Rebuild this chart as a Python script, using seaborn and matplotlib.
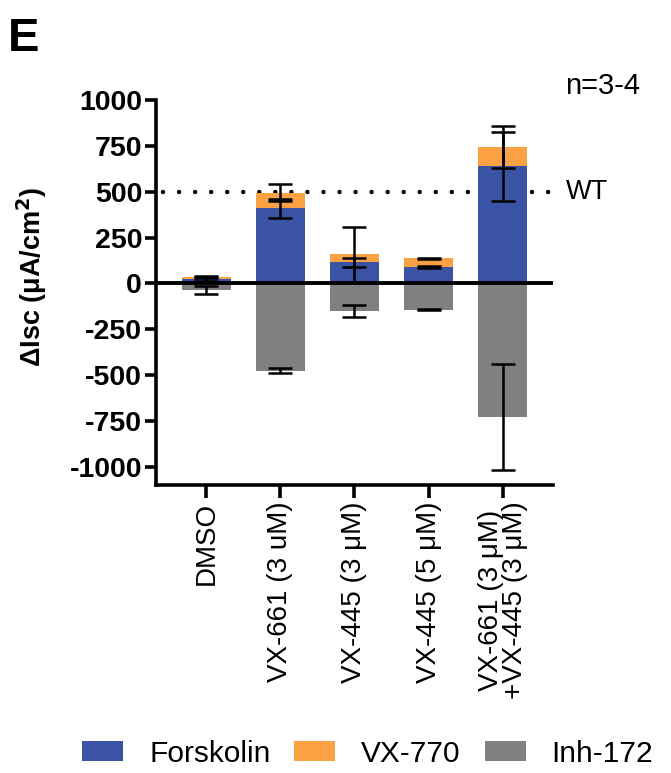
import numpy as np
import pandas as pd
import seaborn as sns
import matplotlib.pyplot as plt
from matplotlib.patches import Patch

# conditions on x axis
conditions = ["DMSO", "VX-661 (3 uM)", "VX-445 (3 μM)", "VX-445 (5 μM)",
              "VX-661 (3 μM)\n+VX-445 (3 μM)"]

# mean delta Isc (uA/cm2) for each stimulus, stacked
forskolin = [22, 410, 115, 89, 638]
vx770 = [14, 85, 43, 47, 106]
inh172 = [-36, -476, -149, -144, -728]

# error (SD) at top of each segment
forskolin_err = [10, 52, 25, 3, 187]
vx770_err = [5, 48, 150, 3, 114]
inh172_err = [22, 15, 33, 2, 288]

wt_level = 500

colors = {"Forskolin": "#3A53A4", "VX-770": "#F9A143", "Inh-172": "#808080"}

df = pd.DataFrame({
    "cond": conditions,
    "forskolin": forskolin,
    "vx770": vx770,
    "inh172": inh172,
})

sns.set_style("ticks", {"axes.edgecolor": "black", "text.color": "black",
                        "axes.labelcolor": "black", "xtick.color": "black",
                        "ytick.color": "black"})
plt.rcParams["font.family"] = ["Liberation Sans", "DejaVu Sans"]
plt.rcParams["axes.unicode_minus"] = False

fig = plt.figure(figsize=(6.71, 7.73), dpi=100)
ax = fig.add_axes([0.2325, 0.3726, 0.824 - 0.2325, 0.8706 - 0.3726])

# WT reference line behind bars
ax.plot([-0.58, 4.72], [wt_level, wt_level], color="black", lw=3.2,
        linestyle=(0, (0.01, 3.6)), dash_capstyle="round", zorder=0,
        clip_on=False)

bar_kw = dict(width=0.67, saturation=1, ax=ax, zorder=2, linewidth=0,
              edgecolor="none")
sns.barplot(data=df, x="cond", y="forskolin", color=colors["Forskolin"],
            **bar_kw)
sns.barplot(data=df, x="cond", y="vx770", color=colors["VX-770"],
            bottom=df["forskolin"].values, **bar_kw)
sns.barplot(data=df, x="cond", y="inh172", color=colors["Inh-172"],
            **bar_kw)

xpos = np.arange(len(conditions))
tops_f = np.array(forskolin)
tops_v = np.array(forskolin) + np.array(vx770)
ek = dict(fmt="none", ecolor="black", elinewidth=1.8, capsize=8.5,
          capthick=1.8, zorder=4)
ax.errorbar(xpos, tops_f, yerr=forskolin_err, **ek)
ax.errorbar(xpos, tops_v, yerr=vx770_err, **ek)
ax.errorbar(xpos, inh172, yerr=inh172_err, **ek)

ax.axhline(0, color="black", lw=2.8, zorder=3)

ax.set_xlim(-0.68, 4.68)
ax.set_ylim(-1100, 1000)
ax.set_yticks([-1000, -750, -500, -250, 0, 250, 500, 750, 1000])
ax.set_xlabel("")
ax.set_ylabel("ΔIsc (μA/cm$^\\mathbf{2}$)", fontsize=19.5, fontweight="bold")
ax.yaxis.set_label_coords(-0.27, 0.54)

for s in ["top", "right"]:
    ax.spines[s].set_visible(False)
for s in ["left", "bottom"]:
    ax.spines[s].set_linewidth(2.6)

ax.tick_params(axis="y", labelsize=20.5, width=2.6, length=8, pad=2)
ax.tick_params(axis="x", labelsize=20, width=2.6, length=9, pad=3,
               labelrotation=90)
for lab in ax.get_yticklabels():
    lab.set_fontweight("bold")
for lab in ax.get_xticklabels():
    lab.set_linespacing(0.9)

ax.text(4.86, wt_level, "WT", fontsize=19.5, va="center", ha="left",
        transform=ax.transData, clip_on=False)

fig.text(0.012, 0.978, "E", fontsize=34, fontweight="bold", va="top")
fig.text(0.842, 0.889, "n=3-4", fontsize=21, va="center")

handles = [Patch(facecolor=c, edgecolor="none") for c in colors.values()]
fig.legend(handles, list(colors.keys()), loc="lower center", ncol=3,
           frameon=False, fontsize=21.5, bbox_to_anchor=(0.548, -0.028),
           handlelength=1.37, handleheight=0.67, columnspacing=0.8,
           handletextpad=0.87)

fig.savefig("out.png", dpi=100)
